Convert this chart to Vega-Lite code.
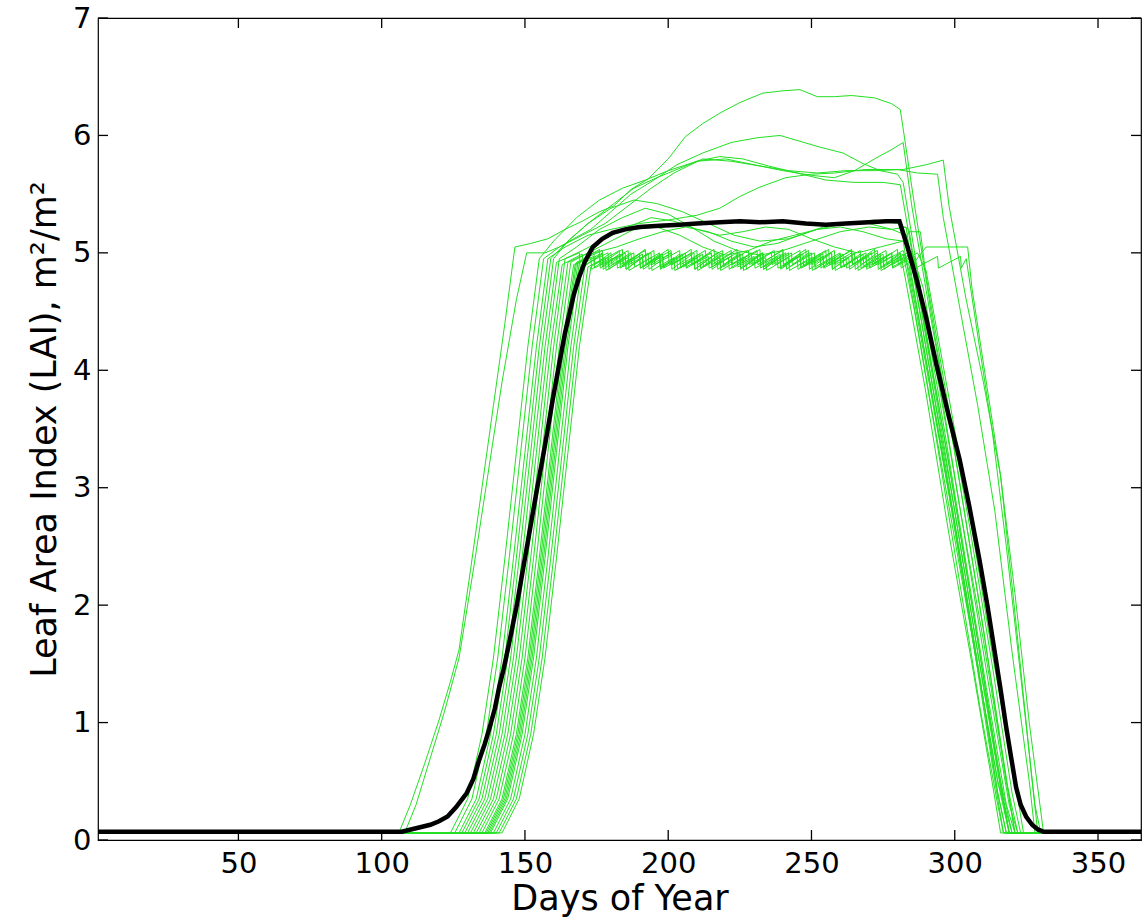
{
"$schema": "https://vega.github.io/schema/vega-lite/v6.json",
"width": 1043, "height": 822,
"autosize": {"type": "none"},
"padding": {"left": 98, "top": 18, "right": 5, "bottom": 77},
"background": "white",
"config": {
  "view": {"stroke": "black", "strokeWidth": 1.2},
  "axis": {"grid": false, "domain": false, "ticks": false,
    "labelFont": "DejaVu Sans", "labelFontSize": 29, "labelColor": "black", "labelFlush": false, "labelOverlap": false,
    "titleFont": "DejaVu Sans", "titleFontSize": 35, "titleColor": "black", "titleFontWeight": "normal"}
},
"datasets": {
"xt": [{"v":50},{"v":100},{"v":150},{"v":200},{"v":250},{"v":300},{"v":350}],
"yt": [{"v":0},{"v":1},{"v":2},{"v":3},{"v":4},{"v":5},{"v":6},{"v":7}],
"ens": [
{"id":"g01","day":1,"lai":0.06},{"id":"g01","day":106,"lai":0.06},{"id":"g01","day":110,"lai":0.3},{"id":"g01","day":115,"lai":0.65},{"id":"g01","day":120,"lai":1.02},{"id":"g01","day":124,"lai":1.35},{"id":"g01","day":127,"lai":1.62},{"id":"g01","day":131,"lai":2.3},{"id":"g01","day":135,"lai":3.0},{"id":"g01","day":139,"lai":3.7},{"id":"g01","day":143,"lai":4.4},{"id":"g01","day":146.5,"lai":5.05},{"id":"g01","day":152,"lai":5.08},{"id":"g01","day":158,"lai":5.12},{"id":"g01","day":164,"lai":5.2},{"id":"g01","day":170,"lai":5.27},{"id":"g01","day":176,"lai":5.35},{"id":"g01","day":181,"lai":5.4},{"id":"g01","day":187,"lai":5.54},{"id":"g01","day":193,"lai":5.63},{"id":"g01","day":200,"lai":5.8},{"id":"g01","day":206,"lai":5.99},{"id":"g01","day":212,"lai":6.1},{"id":"g01","day":218,"lai":6.19},{"id":"g01","day":225,"lai":6.28},{"id":"g01","day":233,"lai":6.36},{"id":"g01","day":240,"lai":6.38},{"id":"g01","day":246,"lai":6.39},{"id":"g01","day":252,"lai":6.33},{"id":"g01","day":258,"lai":6.33},{"id":"g01","day":264,"lai":6.34},{"id":"g01","day":272,"lai":6.32},{"id":"g01","day":278,"lai":6.27},{"id":"g01","day":281,"lai":6.22},{"id":"g01","day":286,"lai":5.4},{"id":"g01","day":293,"lai":4.3},{"id":"g01","day":300,"lai":3.3},{"id":"g01","day":308,"lai":2.1},{"id":"g01","day":315,"lai":1.0},{"id":"g01","day":321,"lai":0.06},{"id":"g01","day":365,"lai":0.06},

{"id":"g02","day":1,"lai":0.06},{"id":"g02","day":108,"lai":0.06},{"id":"g02","day":112,"lai":0.3},{"id":"g02","day":117,"lai":0.7},{"id":"g02","day":122,"lai":1.1},{"id":"g02","day":127,"lai":1.55},{"id":"g02","day":132,"lai":2.3},{"id":"g02","day":137,"lai":3.1},{"id":"g02","day":142,"lai":3.9},{"id":"g02","day":147,"lai":4.6},{"id":"g02","day":150.6,"lai":5.0},{"id":"g02","day":157,"lai":5.0},{"id":"g02","day":162,"lai":5.05},{"id":"g02","day":167,"lai":5.12},{"id":"g02","day":173,"lai":5.2},{"id":"g02","day":180,"lai":5.35},{"id":"g02","day":187,"lai":5.5},{"id":"g02","day":195,"lai":5.62},{"id":"g02","day":203,"lai":5.75},{"id":"g02","day":212,"lai":5.85},{"id":"g02","day":222,"lai":5.94},{"id":"g02","day":231,"lai":5.98},{"id":"g02","day":239,"lai":6.0},{"id":"g02","day":246,"lai":5.95},{"id":"g02","day":253,"lai":5.9},{"id":"g02","day":261,"lai":5.85},{"id":"g02","day":268,"lai":5.76},{"id":"g02","day":274,"lai":5.7},{"id":"g02","day":280,"lai":5.67},{"id":"g02","day":282,"lai":5.6},{"id":"g02","day":288,"lai":4.7},{"id":"g02","day":295,"lai":3.8},{"id":"g02","day":302,"lai":2.8},{"id":"g02","day":310,"lai":1.7},{"id":"g02","day":318,"lai":0.5},{"id":"g02","day":322,"lai":0.06},{"id":"g02","day":365,"lai":0.06},

{"id":"g03","day":1,"lai":0.06},{"id":"g03","day":124,"lai":0.06},{"id":"g03","day":130,"lai":0.35},{"id":"g03","day":135,"lai":0.9},{"id":"g03","day":139,"lai":1.55},{"id":"g03","day":143,"lai":2.4},{"id":"g03","day":147,"lai":3.3},{"id":"g03","day":151,"lai":4.2},{"id":"g03","day":155,"lai":4.95},{"id":"g03","day":160,"lai":5.1},{"id":"g03","day":168,"lai":5.3},{"id":"g03","day":176,"lai":5.45},{"id":"g03","day":184,"lai":5.55},{"id":"g03","day":192,"lai":5.62},{"id":"g03","day":200,"lai":5.7},{"id":"g03","day":210,"lai":5.78},{"id":"g03","day":220,"lai":5.8},{"id":"g03","day":230,"lai":5.75},{"id":"g03","day":240,"lai":5.7},{"id":"g03","day":250,"lai":5.66},{"id":"g03","day":258,"lai":5.64},{"id":"g03","day":265,"lai":5.7},{"id":"g03","day":272,"lai":5.8},{"id":"g03","day":278,"lai":5.88},{"id":"g03","day":282,"lai":5.94},{"id":"g03","day":285,"lai":5.4},{"id":"g03","day":292,"lai":4.4},{"id":"g03","day":300,"lai":3.3},{"id":"g03","day":310,"lai":1.8},{"id":"g03","day":318,"lai":0.5},{"id":"g03","day":321,"lai":0.06},{"id":"g03","day":365,"lai":0.06},

{"id":"g04","day":1,"lai":0.06},{"id":"g04","day":125.5,"lai":0.06},{"id":"g04","day":131.5,"lai":0.35},{"id":"g04","day":136.5,"lai":0.9},{"id":"g04","day":140.5,"lai":1.55},{"id":"g04","day":144.5,"lai":2.4},{"id":"g04","day":148.5,"lai":3.3},{"id":"g04","day":152.5,"lai":4.2},{"id":"g04","day":156.5,"lai":4.95},{"id":"g04","day":162,"lai":5.05},{"id":"g04","day":170,"lai":5.15},{"id":"g04","day":178,"lai":5.25},{"id":"g04","day":186,"lai":5.4},{"id":"g04","day":194,"lai":5.55},{"id":"g04","day":202,"lai":5.68},{"id":"g04","day":212,"lai":5.8},{"id":"g04","day":222,"lai":5.78},{"id":"g04","day":232,"lai":5.74},{"id":"g04","day":242,"lai":5.7},{"id":"g04","day":252,"lai":5.68},{"id":"g04","day":262,"lai":5.7},{"id":"g04","day":272,"lai":5.7},{"id":"g04","day":282,"lai":5.71},{"id":"g04","day":290,"lai":5.75},{"id":"g04","day":296,"lai":5.79},{"id":"g04","day":298,"lai":5.4},{"id":"g04","day":304,"lai":4.6},{"id":"g04","day":310,"lai":3.9},{"id":"g04","day":316,"lai":3.1},{"id":"g04","day":322,"lai":1.7},{"id":"g04","day":327,"lai":0.5},{"id":"g04","day":329,"lai":0.06},{"id":"g04","day":365,"lai":0.06},

{"id":"g05","day":1,"lai":0.06},{"id":"g05","day":127,"lai":0.06},{"id":"g05","day":133,"lai":0.35},{"id":"g05","day":138,"lai":0.9},{"id":"g05","day":142,"lai":1.55},{"id":"g05","day":146,"lai":2.4},{"id":"g05","day":150,"lai":3.3},{"id":"g05","day":154,"lai":4.2},{"id":"g05","day":158,"lai":4.95},{"id":"g05","day":164,"lai":5.05},{"id":"g05","day":172,"lai":5.15},{"id":"g05","day":180,"lai":5.2},{"id":"g05","day":190,"lai":5.25},{"id":"g05","day":200,"lai":5.28},{"id":"g05","day":210,"lai":5.32},{"id":"g05","day":218,"lai":5.38},{"id":"g05","day":225,"lai":5.48},{"id":"g05","day":232,"lai":5.56},{"id":"g05","day":241,"lai":5.64},{"id":"g05","day":250,"lai":5.67},{"id":"g05","day":258,"lai":5.68},{"id":"g05","day":269,"lai":5.71},{"id":"g05","day":280,"lai":5.71},{"id":"g05","day":287,"lai":5.68},{"id":"g05","day":294,"lai":5.67},{"id":"g05","day":296,"lai":5.3},{"id":"g05","day":302,"lai":4.5},{"id":"g05","day":308,"lai":3.7},{"id":"g05","day":314,"lai":2.8},{"id":"g05","day":320,"lai":1.6},{"id":"g05","day":326,"lai":0.5},{"id":"g05","day":328,"lai":0.06},{"id":"g05","day":365,"lai":0.06},

{"id":"g06","day":1,"lai":0.06},{"id":"g06","day":128,"lai":0.06},{"id":"g06","day":134,"lai":0.35},{"id":"g06","day":139,"lai":0.9},{"id":"g06","day":143,"lai":1.55},{"id":"g06","day":147,"lai":2.4},{"id":"g06","day":151,"lai":3.3},{"id":"g06","day":155,"lai":4.2},{"id":"g06","day":159,"lai":4.95},{"id":"g06","day":165,"lai":5.1},{"id":"g06","day":172,"lai":5.25},{"id":"g06","day":180,"lai":5.4},{"id":"g06","day":188,"lai":5.55},{"id":"g06","day":195,"lai":5.63},{"id":"g06","day":202,"lai":5.7},{"id":"g06","day":210,"lai":5.78},{"id":"g06","day":218,"lai":5.82},{"id":"g06","day":226,"lai":5.8},{"id":"g06","day":235,"lai":5.74},{"id":"g06","day":245,"lai":5.68},{"id":"g06","day":255,"lai":5.62},{"id":"g06","day":265,"lai":5.6},{"id":"g06","day":275,"lai":5.6},{"id":"g06","day":281,"lai":5.58},{"id":"g06","day":283,"lai":5.3},{"id":"g06","day":290,"lai":4.3},{"id":"g06","day":298,"lai":3.2},{"id":"g06","day":306,"lai":2.0},{"id":"g06","day":314,"lai":0.8},{"id":"g06","day":319,"lai":0.06},{"id":"g06","day":365,"lai":0.06},

{"id":"g07","day":1,"lai":0.06},{"id":"g07","day":129,"lai":0.06},{"id":"g07","day":135,"lai":0.35},{"id":"g07","day":140,"lai":0.9},{"id":"g07","day":144,"lai":1.55},{"id":"g07","day":148,"lai":2.4},{"id":"g07","day":152,"lai":3.3},{"id":"g07","day":156,"lai":4.2},{"id":"g07","day":160,"lai":4.95},{"id":"g07","day":165,"lai":5.1},{"id":"g07","day":172,"lai":5.25},{"id":"g07","day":180,"lai":5.38},{"id":"g07","day":188,"lai":5.45},{"id":"g07","day":196,"lai":5.42},{"id":"g07","day":205,"lai":5.35},{"id":"g07","day":214,"lai":5.25},{"id":"g07","day":223,"lai":5.15},{"id":"g07","day":232,"lai":5.1},{"id":"g07","day":242,"lai":5.12},{"id":"g07","day":252,"lai":5.2},{"id":"g07","day":262,"lai":5.25},{"id":"g07","day":272,"lai":5.28},{"id":"g07","day":280,"lai":5.25},{"id":"g07","day":284,"lai":5.2},{"id":"g07","day":286,"lai":4.9},{"id":"g07","day":293,"lai":3.9},{"id":"g07","day":300,"lai":2.9},{"id":"g07","day":308,"lai":1.7},{"id":"g07","day":315,"lai":0.6},{"id":"g07","day":319,"lai":0.06},{"id":"g07","day":365,"lai":0.06},

{"id":"g08","day":1,"lai":0.06},{"id":"g08","day":131,"lai":0.06},{"id":"g08","day":137,"lai":0.35},{"id":"g08","day":142,"lai":0.9},{"id":"g08","day":146,"lai":1.55},{"id":"g08","day":150,"lai":2.4},{"id":"g08","day":154,"lai":3.3},{"id":"g08","day":158,"lai":4.2},{"id":"g08","day":162,"lai":4.95},{"id":"g08","day":168,"lai":5.05},{"id":"g08","day":176,"lai":5.2},{"id":"g08","day":184,"lai":5.3},{"id":"g08","day":192,"lai":5.38},{"id":"g08","day":200,"lai":5.33},{"id":"g08","day":208,"lai":5.22},{"id":"g08","day":216,"lai":5.1},{"id":"g08","day":224,"lai":5.02},{"id":"g08","day":232,"lai":4.98},{"id":"g08","day":240,"lai":5.02},{"id":"g08","day":250,"lai":5.1},{"id":"g08","day":260,"lai":5.18},{"id":"g08","day":270,"lai":5.22},{"id":"g08","day":278,"lai":5.2},{"id":"g08","day":283,"lai":5.15},{"id":"g08","day":285,"lai":4.8},{"id":"g08","day":292,"lai":3.8},{"id":"g08","day":300,"lai":2.7},{"id":"g08","day":308,"lai":1.5},{"id":"g08","day":315,"lai":0.4},{"id":"g08","day":318,"lai":0.06},{"id":"g08","day":365,"lai":0.06},

{"id":"g09","day":1,"lai":0.06},{"id":"g09","day":133,"lai":0.06},{"id":"g09","day":139,"lai":0.35},{"id":"g09","day":144,"lai":0.9},{"id":"g09","day":148,"lai":1.55},{"id":"g09","day":152,"lai":2.4},{"id":"g09","day":156,"lai":3.3},{"id":"g09","day":160,"lai":4.2},{"id":"g09","day":164,"lai":4.95},{"id":"g09","day":170,"lai":5.02},{"id":"g09","day":178,"lai":5.12},{"id":"g09","day":186,"lai":5.22},{"id":"g09","day":194,"lai":5.3},{"id":"g09","day":202,"lai":5.27},{"id":"g09","day":210,"lai":5.2},{"id":"g09","day":218,"lai":5.15},{"id":"g09","day":226,"lai":5.18},{"id":"g09","day":234,"lai":5.22},{"id":"g09","day":242,"lai":5.2},{"id":"g09","day":250,"lai":5.12},{"id":"g09","day":258,"lai":5.05},{"id":"g09","day":266,"lai":5.0},{"id":"g09","day":274,"lai":5.05},{"id":"g09","day":282,"lai":5.1},{"id":"g09","day":284,"lai":4.8},{"id":"g09","day":291,"lai":3.8},{"id":"g09","day":299,"lai":2.7},{"id":"g09","day":307,"lai":1.6},{"id":"g09","day":314,"lai":0.5},{"id":"g09","day":317,"lai":0.06},{"id":"g09","day":365,"lai":0.06},

{"id":"g10","day":1,"lai":0.06},{"id":"g10","day":135,"lai":0.06},{"id":"g10","day":141,"lai":0.35},{"id":"g10","day":146,"lai":0.9},{"id":"g10","day":150,"lai":1.55},{"id":"g10","day":154,"lai":2.4},{"id":"g10","day":158,"lai":3.3},{"id":"g10","day":162,"lai":4.2},{"id":"g10","day":166,"lai":4.92},{"id":"g10","day":172,"lai":5.0},{"id":"g10","day":180,"lai":5.1},{"id":"g10","day":188,"lai":5.2},{"id":"g10","day":196,"lai":5.22},{"id":"g10","day":204,"lai":5.15},{"id":"g10","day":212,"lai":5.05},{"id":"g10","day":220,"lai":4.98},{"id":"g10","day":228,"lai":5.02},{"id":"g10","day":236,"lai":5.1},{"id":"g10","day":244,"lai":5.15},{"id":"g10","day":252,"lai":5.2},{"id":"g10","day":260,"lai":5.22},{"id":"g10","day":268,"lai":5.18},{"id":"g10","day":276,"lai":5.12},{"id":"g10","day":282,"lai":5.1},{"id":"g10","day":284,"lai":5.18},{"id":"g10","day":288,"lai":5.18},{"id":"g10","day":290,"lai":4.8},{"id":"g10","day":297,"lai":3.8},{"id":"g10","day":305,"lai":2.7},{"id":"g10","day":313,"lai":1.5},{"id":"g10","day":320,"lai":0.4},{"id":"g10","day":323,"lai":0.06},{"id":"g10","day":365,"lai":0.06},

{"id":"g11","day":1,"lai":0.06},{"id":"g11","day":137.5,"lai":0.06},{"id":"g11","day":143.5,"lai":0.35},{"id":"g11","day":148.5,"lai":0.9},{"id":"g11","day":152.5,"lai":1.55},{"id":"g11","day":156.5,"lai":2.4},{"id":"g11","day":160.5,"lai":3.3},{"id":"g11","day":164.5,"lai":4.2},{"id":"g11","day":168.5,"lai":4.92},{"id":"g11","day":174,"lai":5.0},{"id":"g11","day":182,"lai":5.05},{"id":"g11","day":190,"lai":5.12},{"id":"g11","day":198,"lai":5.18},{"id":"g11","day":206,"lai":5.22},{"id":"g11","day":214,"lai":5.18},{"id":"g11","day":222,"lai":5.1},{"id":"g11","day":230,"lai":5.05},{"id":"g11","day":238,"lai":5.08},{"id":"g11","day":246,"lai":5.15},{"id":"g11","day":254,"lai":5.22},{"id":"g11","day":262,"lai":5.26},{"id":"g11","day":270,"lai":5.25},{"id":"g11","day":278,"lai":5.2},{"id":"g11","day":283,"lai":5.22},{"id":"g11","day":285,"lai":4.9},{"id":"g11","day":292,"lai":3.9},{"id":"g11","day":300,"lai":2.8},{"id":"g11","day":308,"lai":1.6},{"id":"g11","day":316,"lai":0.5},{"id":"g11","day":320,"lai":0.06},{"id":"g11","day":365,"lai":0.06},

{"id":"g12","day":1,"lai":0.06},{"id":"g12","day":130,"lai":0.06},{"id":"g12","day":136,"lai":0.35},{"id":"g12","day":141,"lai":0.9},{"id":"g12","day":145,"lai":1.55},{"id":"g12","day":149,"lai":2.4},{"id":"g12","day":153,"lai":3.3},{"id":"g12","day":157,"lai":4.2},{"id":"g12","day":161,"lai":4.92},{"id":"g12","day":169,"lai":5.0},{"id":"g12","day":169.3,"lai":4.86},{"id":"g12","day":177,"lai":5.0},{"id":"g12","day":177.3,"lai":4.86},{"id":"g12","day":185,"lai":5.0},{"id":"g12","day":185.3,"lai":4.86},{"id":"g12","day":193,"lai":5.0},{"id":"g12","day":193.3,"lai":4.86},{"id":"g12","day":201,"lai":5.0},{"id":"g12","day":201.3,"lai":4.86},{"id":"g12","day":209,"lai":5.0},{"id":"g12","day":209.3,"lai":4.86},{"id":"g12","day":217,"lai":5.0},{"id":"g12","day":217.3,"lai":4.86},{"id":"g12","day":225,"lai":5.0},{"id":"g12","day":225.3,"lai":4.86},{"id":"g12","day":233,"lai":5.0},{"id":"g12","day":233.3,"lai":4.86},{"id":"g12","day":241,"lai":5.0},{"id":"g12","day":241.3,"lai":4.86},{"id":"g12","day":249,"lai":5.0},{"id":"g12","day":249.3,"lai":4.86},{"id":"g12","day":257,"lai":5.0},{"id":"g12","day":257.3,"lai":4.86},{"id":"g12","day":265,"lai":5.0},{"id":"g12","day":265.3,"lai":4.86},{"id":"g12","day":273,"lai":5.0},{"id":"g12","day":273.3,"lai":4.86},{"id":"g12","day":281,"lai":5.0},{"id":"g12","day":283,"lai":4.75},{"id":"g12","day":290,"lai":3.8},{"id":"g12","day":298,"lai":2.6},{"id":"g12","day":306,"lai":1.5},{"id":"g12","day":313,"lai":0.5},{"id":"g12","day":316,"lai":0.06},{"id":"g12","day":365,"lai":0.06},

{"id":"g13","day":1,"lai":0.06},{"id":"g13","day":132,"lai":0.06},{"id":"g13","day":138,"lai":0.35},{"id":"g13","day":143,"lai":0.9},{"id":"g13","day":147,"lai":1.55},{"id":"g13","day":151,"lai":2.4},{"id":"g13","day":155,"lai":3.3},{"id":"g13","day":159,"lai":4.2},{"id":"g13","day":163,"lai":4.9},{"id":"g13","day":170,"lai":4.99},{"id":"g13","day":170.3,"lai":4.88},{"id":"g13","day":177,"lai":4.99},{"id":"g13","day":177.3,"lai":4.88},{"id":"g13","day":184,"lai":4.99},{"id":"g13","day":184.3,"lai":4.88},{"id":"g13","day":191,"lai":4.99},{"id":"g13","day":191.3,"lai":4.88},{"id":"g13","day":198,"lai":4.99},{"id":"g13","day":198.3,"lai":4.88},{"id":"g13","day":205,"lai":4.99},{"id":"g13","day":205.3,"lai":4.88},{"id":"g13","day":212,"lai":4.99},{"id":"g13","day":212.3,"lai":4.88},{"id":"g13","day":219,"lai":4.99},{"id":"g13","day":219.3,"lai":4.88},{"id":"g13","day":226,"lai":4.99},{"id":"g13","day":226.3,"lai":4.88},{"id":"g13","day":233,"lai":4.99},{"id":"g13","day":233.3,"lai":4.88},{"id":"g13","day":240,"lai":4.99},{"id":"g13","day":240.3,"lai":4.88},{"id":"g13","day":247,"lai":4.99},{"id":"g13","day":247.3,"lai":4.88},{"id":"g13","day":254,"lai":4.99},{"id":"g13","day":254.3,"lai":4.88},{"id":"g13","day":261,"lai":4.99},{"id":"g13","day":261.3,"lai":4.88},{"id":"g13","day":268,"lai":4.99},{"id":"g13","day":268.3,"lai":4.88},{"id":"g13","day":275,"lai":4.99},{"id":"g13","day":275.3,"lai":4.88},{"id":"g13","day":282,"lai":4.99},{"id":"g13","day":286,"lai":4.5},{"id":"g13","day":293,"lai":3.5},{"id":"g13","day":301,"lai":2.3},{"id":"g13","day":309,"lai":1.1},{"id":"g13","day":315,"lai":0.3},{"id":"g13","day":317,"lai":0.06},{"id":"g13","day":365,"lai":0.06},

{"id":"g14","day":1,"lai":0.06},{"id":"g14","day":134,"lai":0.06},{"id":"g14","day":140,"lai":0.35},{"id":"g14","day":145,"lai":0.9},{"id":"g14","day":149,"lai":1.55},{"id":"g14","day":153,"lai":2.4},{"id":"g14","day":157,"lai":3.3},{"id":"g14","day":161,"lai":4.2},{"id":"g14","day":165,"lai":4.92},{"id":"g14","day":174,"lai":5.02},{"id":"g14","day":174.3,"lai":4.9},{"id":"g14","day":183,"lai":5.02},{"id":"g14","day":183.3,"lai":4.9},{"id":"g14","day":192,"lai":5.02},{"id":"g14","day":192.3,"lai":4.9},{"id":"g14","day":201,"lai":5.02},{"id":"g14","day":201.3,"lai":4.9},{"id":"g14","day":210,"lai":5.02},{"id":"g14","day":210.3,"lai":4.9},{"id":"g14","day":219,"lai":5.02},{"id":"g14","day":219.3,"lai":4.9},{"id":"g14","day":228,"lai":5.02},{"id":"g14","day":228.3,"lai":4.9},{"id":"g14","day":237,"lai":5.02},{"id":"g14","day":237.3,"lai":4.9},{"id":"g14","day":246,"lai":5.02},{"id":"g14","day":246.3,"lai":4.9},{"id":"g14","day":255,"lai":5.02},{"id":"g14","day":255.3,"lai":4.9},{"id":"g14","day":264,"lai":5.02},{"id":"g14","day":264.3,"lai":4.9},{"id":"g14","day":273,"lai":5.02},{"id":"g14","day":273.3,"lai":4.9},{"id":"g14","day":282,"lai":5.02},{"id":"g14","day":284,"lai":4.85},{"id":"g14","day":291,"lai":3.9},{"id":"g14","day":299,"lai":2.8},{"id":"g14","day":307,"lai":1.6},{"id":"g14","day":315,"lai":0.5},{"id":"g14","day":319,"lai":0.06},{"id":"g14","day":365,"lai":0.06},

{"id":"g15","day":1,"lai":0.06},{"id":"g15","day":136,"lai":0.06},{"id":"g15","day":142,"lai":0.35},{"id":"g15","day":147,"lai":0.9},{"id":"g15","day":151,"lai":1.55},{"id":"g15","day":155,"lai":2.4},{"id":"g15","day":159,"lai":3.3},{"id":"g15","day":163,"lai":4.2},{"id":"g15","day":167,"lai":4.9},{"id":"g15","day":173,"lai":4.96},{"id":"g15","day":173.3,"lai":4.86},{"id":"g15","day":179,"lai":4.96},{"id":"g15","day":179.3,"lai":4.86},{"id":"g15","day":185,"lai":4.96},{"id":"g15","day":185.3,"lai":4.86},{"id":"g15","day":191,"lai":4.96},{"id":"g15","day":191.3,"lai":4.86},{"id":"g15","day":197,"lai":4.96},{"id":"g15","day":197.3,"lai":4.86},{"id":"g15","day":203,"lai":4.96},{"id":"g15","day":203.3,"lai":4.86},{"id":"g15","day":209,"lai":4.96},{"id":"g15","day":209.3,"lai":4.86},{"id":"g15","day":215,"lai":4.96},{"id":"g15","day":215.3,"lai":4.86},{"id":"g15","day":221,"lai":4.96},{"id":"g15","day":221.3,"lai":4.86},{"id":"g15","day":227,"lai":4.96},{"id":"g15","day":227.3,"lai":4.86},{"id":"g15","day":233,"lai":4.96},{"id":"g15","day":233.3,"lai":4.86},{"id":"g15","day":239,"lai":4.96},{"id":"g15","day":239.3,"lai":4.86},{"id":"g15","day":245,"lai":4.96},{"id":"g15","day":245.3,"lai":4.86},{"id":"g15","day":251,"lai":4.96},{"id":"g15","day":251.3,"lai":4.86},{"id":"g15","day":257,"lai":4.96},{"id":"g15","day":257.3,"lai":4.86},{"id":"g15","day":263,"lai":4.96},{"id":"g15","day":263.3,"lai":4.86},{"id":"g15","day":269,"lai":4.96},{"id":"g15","day":269.3,"lai":4.86},{"id":"g15","day":275,"lai":4.96},{"id":"g15","day":275.3,"lai":4.86},{"id":"g15","day":281,"lai":4.96},{"id":"g15","day":284,"lai":4.9},{"id":"g15","day":291,"lai":3.95},{"id":"g15","day":299,"lai":2.8},{"id":"g15","day":307,"lai":1.6},{"id":"g15","day":315,"lai":0.5},{"id":"g15","day":320,"lai":0.06},{"id":"g15","day":365,"lai":0.06},

{"id":"g16","day":1,"lai":0.06},{"id":"g16","day":138,"lai":0.06},{"id":"g16","day":144,"lai":0.35},{"id":"g16","day":149,"lai":0.9},{"id":"g16","day":153,"lai":1.55},{"id":"g16","day":157,"lai":2.4},{"id":"g16","day":161,"lai":3.3},{"id":"g16","day":165,"lai":4.2},{"id":"g16","day":169,"lai":4.92},{"id":"g16","day":176,"lai":5.03},{"id":"g16","day":176.3,"lai":4.9},{"id":"g16","day":184,"lai":5.03},{"id":"g16","day":184.3,"lai":4.9},{"id":"g16","day":192,"lai":5.03},{"id":"g16","day":192.3,"lai":4.9},{"id":"g16","day":200,"lai":5.03},{"id":"g16","day":200.3,"lai":4.9},{"id":"g16","day":208,"lai":5.03},{"id":"g16","day":208.3,"lai":4.9},{"id":"g16","day":216,"lai":5.03},{"id":"g16","day":216.3,"lai":4.9},{"id":"g16","day":224,"lai":5.03},{"id":"g16","day":224.3,"lai":4.9},{"id":"g16","day":232,"lai":5.03},{"id":"g16","day":232.3,"lai":4.9},{"id":"g16","day":240,"lai":5.03},{"id":"g16","day":240.3,"lai":4.9},{"id":"g16","day":248,"lai":5.03},{"id":"g16","day":248.3,"lai":4.9},{"id":"g16","day":256,"lai":5.03},{"id":"g16","day":256.3,"lai":4.9},{"id":"g16","day":264,"lai":5.03},{"id":"g16","day":264.3,"lai":4.9},{"id":"g16","day":272,"lai":5.03},{"id":"g16","day":272.3,"lai":4.9},{"id":"g16","day":280,"lai":5.03},{"id":"g16","day":280.3,"lai":4.9},{"id":"g16","day":285,"lai":5.0},{"id":"g16","day":287,"lai":4.7},{"id":"g16","day":294,"lai":3.7},{"id":"g16","day":302,"lai":2.5},{"id":"g16","day":310,"lai":1.3},{"id":"g16","day":317,"lai":0.3},{"id":"g16","day":319,"lai":0.06},{"id":"g16","day":365,"lai":0.06},

{"id":"g17","day":1,"lai":0.06},{"id":"g17","day":139,"lai":0.06},{"id":"g17","day":145,"lai":0.35},{"id":"g17","day":150,"lai":0.9},{"id":"g17","day":154,"lai":1.55},{"id":"g17","day":158,"lai":2.4},{"id":"g17","day":162,"lai":3.3},{"id":"g17","day":166,"lai":4.2},{"id":"g17","day":170,"lai":4.9},{"id":"g17","day":176,"lai":4.99},{"id":"g17","day":176.3,"lai":4.87},{"id":"g17","day":183,"lai":4.99},{"id":"g17","day":183.3,"lai":4.87},{"id":"g17","day":190,"lai":4.99},{"id":"g17","day":190.3,"lai":4.87},{"id":"g17","day":197,"lai":4.99},{"id":"g17","day":197.3,"lai":4.87},{"id":"g17","day":204,"lai":4.99},{"id":"g17","day":204.3,"lai":4.87},{"id":"g17","day":211,"lai":4.99},{"id":"g17","day":211.3,"lai":4.87},{"id":"g17","day":218,"lai":4.99},{"id":"g17","day":218.3,"lai":4.87},{"id":"g17","day":225,"lai":4.99},{"id":"g17","day":225.3,"lai":4.87},{"id":"g17","day":232,"lai":4.99},{"id":"g17","day":232.3,"lai":4.87},{"id":"g17","day":239,"lai":4.99},{"id":"g17","day":239.3,"lai":4.87},{"id":"g17","day":246,"lai":4.99},{"id":"g17","day":246.3,"lai":4.87},{"id":"g17","day":253,"lai":4.99},{"id":"g17","day":253.3,"lai":4.87},{"id":"g17","day":260,"lai":4.99},{"id":"g17","day":260.3,"lai":4.87},{"id":"g17","day":267,"lai":4.99},{"id":"g17","day":267.3,"lai":4.87},{"id":"g17","day":274,"lai":4.99},{"id":"g17","day":274.3,"lai":4.87},{"id":"g17","day":281,"lai":4.99},{"id":"g17","day":281.3,"lai":4.87},{"id":"g17","day":286,"lai":4.95},{"id":"g17","day":288,"lai":4.7},{"id":"g17","day":295,"lai":3.7},{"id":"g17","day":303,"lai":2.5},{"id":"g17","day":311,"lai":1.3},{"id":"g17","day":318,"lai":0.3},{"id":"g17","day":321,"lai":0.06},{"id":"g17","day":365,"lai":0.06},

{"id":"g18","day":1,"lai":0.06},{"id":"g18","day":140,"lai":0.06},{"id":"g18","day":146,"lai":0.35},{"id":"g18","day":151,"lai":0.9},{"id":"g18","day":155,"lai":1.55},{"id":"g18","day":159,"lai":2.4},{"id":"g18","day":163,"lai":3.3},{"id":"g18","day":167,"lai":4.2},{"id":"g18","day":171,"lai":4.9},{"id":"g18","day":179,"lai":5.0},{"id":"g18","day":179.3,"lai":4.88},{"id":"g18","day":188,"lai":5.0},{"id":"g18","day":188.3,"lai":4.88},{"id":"g18","day":197,"lai":5.0},{"id":"g18","day":197.3,"lai":4.88},{"id":"g18","day":206,"lai":5.0},{"id":"g18","day":206.3,"lai":4.88},{"id":"g18","day":215,"lai":5.0},{"id":"g18","day":215.3,"lai":4.88},{"id":"g18","day":224,"lai":5.0},{"id":"g18","day":224.3,"lai":4.88},{"id":"g18","day":233,"lai":5.0},{"id":"g18","day":233.3,"lai":4.88},{"id":"g18","day":242,"lai":5.0},{"id":"g18","day":242.3,"lai":4.88},{"id":"g18","day":251,"lai":5.0},{"id":"g18","day":251.3,"lai":4.88},{"id":"g18","day":260,"lai":5.0},{"id":"g18","day":260.3,"lai":4.88},{"id":"g18","day":269,"lai":5.0},{"id":"g18","day":269.3,"lai":4.88},{"id":"g18","day":278,"lai":5.0},{"id":"g18","day":278.3,"lai":4.88},{"id":"g18","day":287,"lai":5.0},{"id":"g18","day":290,"lai":4.85},{"id":"g18","day":297,"lai":3.9},{"id":"g18","day":305,"lai":2.8},{"id":"g18","day":313,"lai":1.6},{"id":"g18","day":321,"lai":0.5},{"id":"g18","day":324,"lai":0.06},{"id":"g18","day":365,"lai":0.06},

{"id":"g19","day":1,"lai":0.06},{"id":"g19","day":141,"lai":0.06},{"id":"g19","day":147,"lai":0.35},{"id":"g19","day":152,"lai":0.9},{"id":"g19","day":156,"lai":1.55},{"id":"g19","day":160,"lai":2.4},{"id":"g19","day":164,"lai":3.3},{"id":"g19","day":168,"lai":4.2},{"id":"g19","day":172,"lai":4.88},{"id":"g19","day":178,"lai":4.96},{"id":"g19","day":178.3,"lai":4.85},{"id":"g19","day":186,"lai":4.96},{"id":"g19","day":186.3,"lai":4.85},{"id":"g19","day":194,"lai":4.96},{"id":"g19","day":194.3,"lai":4.85},{"id":"g19","day":202,"lai":4.96},{"id":"g19","day":202.3,"lai":4.85},{"id":"g19","day":210,"lai":4.96},{"id":"g19","day":210.3,"lai":4.85},{"id":"g19","day":218,"lai":4.96},{"id":"g19","day":218.3,"lai":4.85},{"id":"g19","day":226,"lai":4.96},{"id":"g19","day":226.3,"lai":4.85},{"id":"g19","day":234,"lai":4.96},{"id":"g19","day":234.3,"lai":4.85},{"id":"g19","day":242,"lai":4.96},{"id":"g19","day":242.3,"lai":4.85},{"id":"g19","day":250,"lai":4.96},{"id":"g19","day":250.3,"lai":4.85},{"id":"g19","day":258,"lai":4.96},{"id":"g19","day":258.3,"lai":4.85},{"id":"g19","day":266,"lai":4.96},{"id":"g19","day":266.3,"lai":4.85},{"id":"g19","day":274,"lai":4.96},{"id":"g19","day":274.3,"lai":4.85},{"id":"g19","day":282,"lai":4.96},{"id":"g19","day":285,"lai":4.9},{"id":"g19","day":292,"lai":3.9},{"id":"g19","day":300,"lai":2.7},{"id":"g19","day":308,"lai":1.5},{"id":"g19","day":315,"lai":0.4},{"id":"g19","day":318,"lai":0.06},{"id":"g19","day":365,"lai":0.06},

{"id":"g20","day":1,"lai":0.06},{"id":"g20","day":142,"lai":0.06},{"id":"g20","day":148,"lai":0.35},{"id":"g20","day":153,"lai":0.9},{"id":"g20","day":157,"lai":1.55},{"id":"g20","day":161,"lai":2.4},{"id":"g20","day":165,"lai":3.3},{"id":"g20","day":169,"lai":4.2},{"id":"g20","day":173,"lai":4.88},{"id":"g20","day":180,"lai":5.0},{"id":"g20","day":180.3,"lai":4.9},{"id":"g20","day":187,"lai":5.0},{"id":"g20","day":187.3,"lai":4.9},{"id":"g20","day":194,"lai":5.0},{"id":"g20","day":194.3,"lai":4.9},{"id":"g20","day":201,"lai":5.0},{"id":"g20","day":201.3,"lai":4.9},{"id":"g20","day":208,"lai":5.0},{"id":"g20","day":208.3,"lai":4.9},{"id":"g20","day":215,"lai":5.0},{"id":"g20","day":215.3,"lai":4.9},{"id":"g20","day":222,"lai":5.0},{"id":"g20","day":222.3,"lai":4.9},{"id":"g20","day":229,"lai":5.0},{"id":"g20","day":229.3,"lai":4.9},{"id":"g20","day":236,"lai":5.0},{"id":"g20","day":236.3,"lai":4.9},{"id":"g20","day":243,"lai":5.0},{"id":"g20","day":243.3,"lai":4.9},{"id":"g20","day":250,"lai":5.0},{"id":"g20","day":250.3,"lai":4.9},{"id":"g20","day":257,"lai":5.0},{"id":"g20","day":257.3,"lai":4.9},{"id":"g20","day":264,"lai":5.0},{"id":"g20","day":264.3,"lai":4.9},{"id":"g20","day":271,"lai":5.0},{"id":"g20","day":271.3,"lai":4.9},{"id":"g20","day":278,"lai":5.0},{"id":"g20","day":278.3,"lai":4.9},{"id":"g20","day":285,"lai":5.0},{"id":"g20","day":289,"lai":4.7},{"id":"g20","day":296,"lai":3.7},{"id":"g20","day":304,"lai":2.5},{"id":"g20","day":312,"lai":1.3},{"id":"g20","day":319,"lai":0.3},{"id":"g20","day":322,"lai":0.06},{"id":"g20","day":365,"lai":0.06},

{"id":"g21","day":1,"lai":0.06},{"id":"g21","day":137,"lai":0.06},{"id":"g21","day":143,"lai":0.35},{"id":"g21","day":148,"lai":0.9},{"id":"g21","day":152,"lai":1.55},{"id":"g21","day":156,"lai":2.4},{"id":"g21","day":160,"lai":3.3},{"id":"g21","day":164,"lai":4.2},{"id":"g21","day":168,"lai":4.92},{"id":"g21","day":177,"lai":5.02},{"id":"g21","day":177.3,"lai":4.9},{"id":"g21","day":186,"lai":5.02},{"id":"g21","day":186.3,"lai":4.9},{"id":"g21","day":195,"lai":5.02},{"id":"g21","day":195.3,"lai":4.9},{"id":"g21","day":204,"lai":5.02},{"id":"g21","day":204.3,"lai":4.9},{"id":"g21","day":213,"lai":5.02},{"id":"g21","day":213.3,"lai":4.9},{"id":"g21","day":222,"lai":5.02},{"id":"g21","day":222.3,"lai":4.9},{"id":"g21","day":231,"lai":5.02},{"id":"g21","day":231.3,"lai":4.9},{"id":"g21","day":240,"lai":5.02},{"id":"g21","day":240.3,"lai":4.9},{"id":"g21","day":249,"lai":5.02},{"id":"g21","day":249.3,"lai":4.9},{"id":"g21","day":258,"lai":5.02},{"id":"g21","day":258.3,"lai":4.9},{"id":"g21","day":267,"lai":5.02},{"id":"g21","day":267.3,"lai":4.9},{"id":"g21","day":276,"lai":5.02},{"id":"g21","day":276.3,"lai":4.9},{"id":"g21","day":285,"lai":5.02},{"id":"g21","day":285.3,"lai":4.9},{"id":"g21","day":290,"lai":5.05},{"id":"g21","day":304.5,"lai":5.05},{"id":"g21","day":306,"lai":4.7},{"id":"g21","day":311,"lai":3.9},{"id":"g21","day":316,"lai":3.1},{"id":"g21","day":321,"lai":2.1},{"id":"g21","day":326,"lai":1.0},{"id":"g21","day":331,"lai":0.06},{"id":"g21","day":365,"lai":0.06},

{"id":"g22","day":1,"lai":0.06},{"id":"g22","day":136.5,"lai":0.06},{"id":"g22","day":142.5,"lai":0.35},{"id":"g22","day":147.5,"lai":0.9},{"id":"g22","day":151.5,"lai":1.55},{"id":"g22","day":155.5,"lai":2.4},{"id":"g22","day":159.5,"lai":3.3},{"id":"g22","day":163.5,"lai":4.2},{"id":"g22","day":167.5,"lai":4.9},{"id":"g22","day":174,"lai":4.97},{"id":"g22","day":174.3,"lai":4.87},{"id":"g22","day":182,"lai":4.97},{"id":"g22","day":182.3,"lai":4.87},{"id":"g22","day":190,"lai":4.97},{"id":"g22","day":190.3,"lai":4.87},{"id":"g22","day":198,"lai":4.97},{"id":"g22","day":198.3,"lai":4.87},{"id":"g22","day":206,"lai":4.97},{"id":"g22","day":206.3,"lai":4.87},{"id":"g22","day":214,"lai":4.97},{"id":"g22","day":214.3,"lai":4.87},{"id":"g22","day":222,"lai":4.97},{"id":"g22","day":222.3,"lai":4.87},{"id":"g22","day":230,"lai":4.97},{"id":"g22","day":230.3,"lai":4.87},{"id":"g22","day":238,"lai":4.97},{"id":"g22","day":238.3,"lai":4.87},{"id":"g22","day":246,"lai":4.97},{"id":"g22","day":246.3,"lai":4.87},{"id":"g22","day":254,"lai":4.97},{"id":"g22","day":254.3,"lai":4.87},{"id":"g22","day":262,"lai":4.97},{"id":"g22","day":262.3,"lai":4.87},{"id":"g22","day":270,"lai":4.97},{"id":"g22","day":270.3,"lai":4.87},{"id":"g22","day":278,"lai":4.97},{"id":"g22","day":278.3,"lai":4.87},{"id":"g22","day":286,"lai":4.97},{"id":"g22","day":286.3,"lai":4.87},{"id":"g22","day":294,"lai":4.97},{"id":"g22","day":294.3,"lai":4.87},{"id":"g22","day":302,"lai":4.97},{"id":"g22","day":302.3,"lai":4.87},{"id":"g22","day":304,"lai":4.95},{"id":"g22","day":308,"lai":4.3},{"id":"g22","day":313,"lai":3.5},{"id":"g22","day":318,"lai":2.5},{"id":"g22","day":323,"lai":1.4},{"id":"g22","day":328,"lai":0.3},{"id":"g22","day":330,"lai":0.06},{"id":"g22","day":365,"lai":0.06}
],
"mean": [
{"day":1,"lai":0.07},{"day":107,"lai":0.07},{"day":112,"lai":0.1},{"day":117,"lai":0.13},{"day":120,"lai":0.16},{"day":123,"lai":0.2},{"day":126,"lai":0.28},{"day":129.7,"lai":0.4},{"day":132,"lai":0.52},{"day":134,"lai":0.68},{"day":136,"lai":0.82},{"day":137.7,"lai":0.96},{"day":139.5,"lai":1.12},{"day":141,"lai":1.3},{"day":142.5,"lai":1.45},{"day":144,"lai":1.62},{"day":147,"lai":1.98},{"day":150,"lai":2.4},{"day":152,"lai":2.68},{"day":154,"lai":2.96},{"day":157,"lai":3.36},{"day":159.7,"lai":3.75},{"day":162,"lai":4.06},{"day":164,"lai":4.32},{"day":165.6,"lai":4.49},{"day":167,"lai":4.64},{"day":169,"lai":4.8},{"day":171,"lai":4.93},{"day":173.7,"lai":5.05},{"day":177,"lai":5.12},{"day":180.6,"lai":5.17},{"day":185,"lai":5.2},{"day":190,"lai":5.22},{"day":197,"lai":5.23},{"day":204,"lai":5.24},{"day":210,"lai":5.25},{"day":218,"lai":5.26},{"day":225,"lai":5.27},{"day":232,"lai":5.26},{"day":240,"lai":5.27},{"day":248,"lai":5.25},{"day":255,"lai":5.24},{"day":262,"lai":5.25},{"day":270,"lai":5.26},{"day":276,"lai":5.27},{"day":280.7,"lai":5.27},{"day":283.5,"lai":5.05},{"day":286.6,"lai":4.78},{"day":290,"lai":4.45},{"day":293.6,"lai":4.05},{"day":298,"lai":3.6},{"day":301.7,"lai":3.24},{"day":305,"lai":2.85},{"day":308.6,"lai":2.39},{"day":311.5,"lai":1.98},{"day":314.4,"lai":1.53},{"day":316,"lai":1.28},{"day":317.9,"lai":0.97},{"day":319.7,"lai":0.7},{"day":321.4,"lai":0.45},{"day":323,"lai":0.3},{"day":324.9,"lai":0.2},{"day":327,"lai":0.13},{"day":329,"lai":0.09},{"day":331,"lai":0.07},{"day":365,"lai":0.07}
]
},
"layer": [
  {
    "data": {"name": "ens"},
    "mark": {"type": "line", "color": "#22e022", "strokeWidth": 1, "clip": true},
    "encoding": {
      "x": {"field": "day", "type": "quantitative", "scale": {"domain": [1, 365], "nice": false, "zero": false},
        "axis": {"orient": "bottom", "values": [50, 100, 150, 200, 250, 300, 350], "format": "d", "title": "Days of Year", "labelPadding": 9, "titlePadding": 3}},
      "y": {"field": "lai", "type": "quantitative", "scale": {"domain": [0, 7], "nice": false, "zero": false},
        "axis": {"orient": "left", "values": [0, 1, 2, 3, 4, 5, 6, 7], "format": "d", "title": "Leaf Area Index (LAI), m²/m²", "labelPadding": 7, "titlePadding": 10}},
      "detail": {"field": "id"}
    }
  },
  {
    "data": {"name": "mean"},
    "mark": {"type": "line", "color": "black", "strokeWidth": 4.5, "clip": true},
    "encoding": {
      "x": {"field": "day", "type": "quantitative"},
      "y": {"field": "lai", "type": "quantitative"}
    }
  },
  {
    "data": {"name": "xt"},
    "mark": {"type": "rule", "color": "black", "strokeWidth": 1.3},
    "encoding": {
      "x": {"field": "v", "type": "quantitative"},
      "y": {"datum": 0, "type": "quantitative"},
      "y2": {"datum": 0.085}
    }
  },
  {
    "data": {"name": "xt"},
    "mark": {"type": "rule", "color": "black", "strokeWidth": 1.3},
    "encoding": {
      "x": {"field": "v", "type": "quantitative"},
      "y": {"datum": 7, "type": "quantitative"},
      "y2": {"datum": 6.915}
    }
  },
  {
    "data": {"name": "yt"},
    "mark": {"type": "rule", "color": "black", "strokeWidth": 1.3},
    "encoding": {
      "y": {"field": "v", "type": "quantitative"},
      "x": {"datum": 1, "type": "quantitative"},
      "x2": {"datum": 4.5}
    }
  },
  {
    "data": {"name": "yt"},
    "mark": {"type": "rule", "color": "black", "strokeWidth": 1.3},
    "encoding": {
      "y": {"field": "v", "type": "quantitative"},
      "x": {"datum": 365, "type": "quantitative"},
      "x2": {"datum": 361.5}
    }
  }
]
}
